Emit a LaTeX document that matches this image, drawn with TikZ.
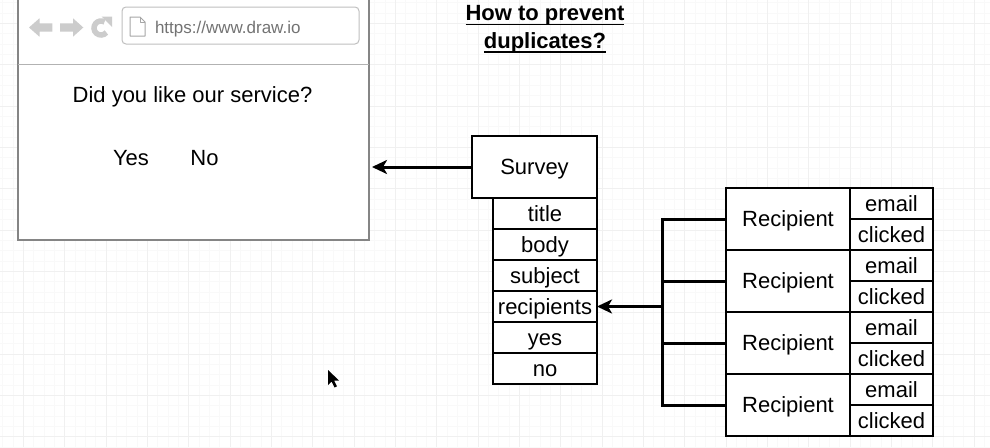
\documentclass[tikz,border=0pt]{standalone}
\usepackage{fontspec}
\setmainfont{Liberation Sans}
\usetikzlibrary{arrows.meta,calc}
\begin{document}
\begin{tikzpicture}[x=1pt,y=-1pt,
  every node/.style={inner sep=0pt, outer sep=0pt},
  txt/.style={font=\fontsize{22}{26}\selectfont},
  titlefont/.style={font=\fontsize{22}{26}\selectfont\bfseries},
  box/.style={draw, line width=2.1pt, fill=white, txt, text height=15.8pt, text depth=0pt},
  conn/.style={line width=3pt},
  arr/.style={conn, -{Stealth[length=15pt,width=14pt,inset=4pt]}},
  majorgrid/.style={draw=black!6, line width=0.8pt},
  minorgrid/.style={draw=black!2.5, line width=0.6pt},
  icon/.style={fill=black!20, draw=none},
]
\useasboundingbox (0,0) rectangle (990,447);
\fill[white] (0,0) rectangle (990,447);
% grid
\foreach \i in {0,...,95} {\draw[minorgrid] ({2.67+10.333*\i},0) -- ({2.67+10.333*\i},447);}
\foreach \i in {0,...,43} {\draw[minorgrid] (0,{2.67+10.333*\i}) -- (990,{2.67+10.333*\i});}
\foreach \i in {0,...,23} {\draw[majorgrid] ({23.33+41.33*\i},0) -- ({23.33+41.33*\i},447);}
\foreach \i in {0,...,10} {\draw[majorgrid] (0,{23.33+41.33*\i}) -- (990,{23.33+41.33*\i});}

% browser mockup
\node[draw=black!48, line width=1.3pt, fill=white, minimum width=351pt, minimum height=250pt] (browser) at (193.5,115) {};
\coordinate (sepy) at (0,64);
\draw[black!30, line width=1pt] (browser.west |- sepy) -- (browser.east |- sepy);
\draw[black!25, line width=1pt, rounded corners=4pt, fill=white] (122,7) rectangle (359,44);
\node[anchor=base west, text=black!55, font=\fontsize{17}{20}\selectfont] (url) at (155,33.3) {https://www.draw.io};
\draw[black!35, line width=1pt, line join=round] (130,17) -- (140,17) -- (145,22) -- (145,36) -- (130,36) -- cycle;
\draw[black!35, line width=1pt, line join=round] (140,17) -- (140,22) -- (145,22);
\fill[icon] (29,27.5) -- (39.5,18.3) -- (39.5,23.3) -- (52.3,23.3) -- (52.3,31.7) -- (39.5,31.7) -- (39.5,36.7) -- cycle;
\fill[icon] (83.3,27.5) -- (73,18.3) -- (73,23.3) -- (60,23.3) -- (60,31.7) -- (73,31.7) -- (73,36.7) -- cycle;
\draw[black!20, line width=5.5pt] (101,28) ++(40:7) arc[start angle=40, end angle=300, radius=7];
\fill[icon] (101.5,16.5) -- (112,16.5) -- (112,27) -- cycle;
\node[txt, anchor=base] (q) at (192.5,102.7) {Did you like our service?};
\node[txt, anchor=base] (yes) at (131,165) {Yes};
\node[txt, anchor=base] (no) at (204.5,165) {No};

% title
\node[titlefont, anchor=base] (t1) at (545,20.7) {How to prevent};
\node[titlefont, anchor=base] (t2) at (545,48.3) {duplicates?};
\draw[line width=1.6pt] ([yshift=-3.6pt]t1.base west) -- ([yshift=-3.6pt]t1.base east);
\draw[line width=1.6pt] ([yshift=-3.6pt]t2.base west) -- ([yshift=-3.6pt]t2.base east);

% survey
\node[box, minimum width=125pt, minimum height=62pt] (survey) at (534.5,167) {Survey};
\node[box, minimum width=104pt, minimum height=31pt] (f1) at (545,213.5) {title};
\node[box, minimum width=104pt, minimum height=31pt] (f2) at (545,244.5) {body};
\node[box, minimum width=104pt, minimum height=31pt] (f3) at (545,275.5) {subject};
\node[box, minimum width=104pt, minimum height=31pt] (f4) at (545,306.5) {recipients};
\node[box, minimum width=104pt, minimum height=31pt] (f5) at (545,337.5) {yes};
\node[box, minimum width=104pt, minimum height=31pt] (f6) at (545,368.5) {no};
\draw[arr, shorten >=3pt] (survey.west) -- (survey.west -| browser.east);

% recipients
\foreach \k/\y in {1/219,2/281,3/343,4/405} {
  \node[box, minimum width=124pt, minimum height=62pt] (r\k) at (788,\y) {Recipient};
  \node[box, minimum width=83pt, minimum height=31pt] (e\k) at (891.5,\y-15.5) {email};
  \node[box, minimum width=83pt, minimum height=31pt] (c\k) at (891.5,\y+15.5) {clicked};
}
\coordinate (tt) at (662,219);
\draw[conn, line join=miter] (r1.west) -- (r1.west -| tt) -- (r4.west -| tt) -- (r4.west);
\draw[conn] (r2.west) -- (r2.west -| tt);
\draw[conn] (r3.west) -- (r3.west -| tt);
\draw[arr] (f4.east -| tt) -- (f4.east);

% mouse cursor
\fill[black] (328,370) -- ++(0,15) -- ++(3.5,-3.5) -- ++(3,6) -- ++(2.5,-1.2) -- ++(-3,-5.8) -- ++(5,0) -- cycle;
\end{tikzpicture}
\end{document}
